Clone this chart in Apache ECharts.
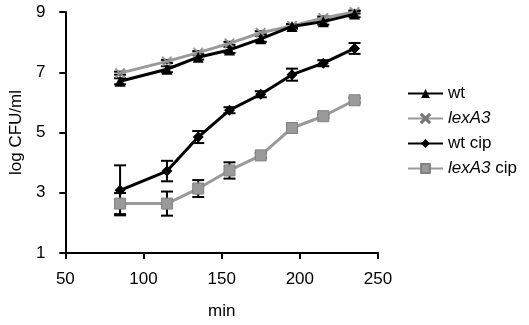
<!DOCTYPE html>
<html>
<head>
<meta charset="utf-8">
<script src="https://cdn.jsdelivr.net/npm/echarts@6/dist/echarts.min.js"></script>
<style>
  html, body { margin: 0; padding: 0; background: #fff; }
  #chart { width: 529px; height: 325px; }
</style>
</head>
<body>
<div id="chart"></div>
<script>
// time points (min)
const minutes = [85, 115, 135, 155, 175, 195, 215, 235];

// log CFU/ml
const wt        = [6.70, 7.10, 7.50, 7.74, 8.11, 8.52, 8.68, 8.93];
const wtErr     = [0.10, 0.10, 0.08, 0.10, 0.10, 0.08, 0.10, 0.10];
const lexA3     = [6.97, 7.36, 7.65, 7.96, 8.31, 8.54, 8.80, 9.00];
const lexA3Err  = [0.05, 0.05, 0.05, 0.05, 0.05, 0.05, 0.05, 0.05];
const wtCip     = [3.08, 3.72, 4.85, 5.74, 6.27, 6.92, 7.30, 7.79];
const wtCipErr  = [0.83, 0.34, 0.20, 0.10, 0.10, 0.20, 0.10, 0.18];
const lexA3Cip    = [2.64, 2.64, 3.14, 3.74, 4.24, 5.15, 5.54, 6.07];
const lexA3CipErr = [0.35, 0.40, 0.28, 0.27, 0.08, 0.08, 0.05, 0.08];

const xTicks = [50, 100, 150, 200, 250];
const yTicks = [1, 3, 5, 7, 9];

const FONT = 'Liberation Sans, Arial, sans-serif';
const GRAY = '#9a9a9a';
// little x marker, echarts has no cross symbol
const crossPath = 'path://M1,0L5,4L9,0L10,1L6,5L10,9L9,10L5,6L1,10L0,9L4,5L0,1Z';

const pairs = (ys) => minutes.map((m, i) => [m, ys[i]]);
const errPairs = (ys, es) => minutes.map((m, i) => [m, ys[i] - es[i], ys[i] + es[i]]);

const errSeries = (ys, es) => ({
    type: 'custom',
    z: 1,
    silent: true,
    data: errPairs(ys, es),
    renderItem: function (params, api) {
        const x = api.value(0);
        const lo = api.coord([x, api.value(1)]);
        const hi = api.coord([x, api.value(2)]);
        const w = 6;
        const st = { stroke: '#000', lineWidth: 2 };
        return {
            type: 'group',
            children: [
                { type: 'line', shape: { x1: lo[0], y1: lo[1], x2: hi[0], y2: hi[1] }, style: st },
                { type: 'line', shape: { x1: lo[0] - w, y1: lo[1], x2: lo[0] + w, y2: lo[1] }, style: st },
                { type: 'line', shape: { x1: hi[0] - w, y1: hi[1], x2: hi[0] + w, y2: hi[1] }, style: st }
            ]
        };
    }
});

const myChart = echarts.init(document.getElementById('chart'));
const option = {
    animation: false,
    textStyle: { fontFamily: FONT },
    grid: { left: 58, right: 151, top: 12, bottom: 71 },
    legend: {
        orient: 'vertical',
        left: 407,
        top: 85,
        padding: 0,
        itemWidth: 35,
        itemHeight: 11,
        itemGap: 8,
        textStyle: {
            color: '#000', fontSize: 17, fontFamily: FONT,
            rich: { i: { fontStyle: 'italic', fontSize: 17, fontFamily: FONT, color: '#000' } }
        },
        formatter: function (name) {
            if (name === 'lexA3') return '{i|lexA3}';
            if (name === 'lexA3 cip') return '{i|lexA3} cip';
            return name;
        },
        data: ['wt', 'lexA3', 'wt cip', 'lexA3 cip']
    },
    xAxis: {
        type: 'value',
        min: xTicks[0],
        max: xTicks[xTicks.length - 1],
        interval: 50,
        name: 'min',
        nameLocation: 'middle',
        nameGap: 50,
        nameTextStyle: { color: '#000', fontSize: 17, fontFamily: FONT },
        axisLine: { lineStyle: { color: '#000', width: 2 } },
        axisTick: { lineStyle: { color: '#000', width: 2 }, length: 6 },
        axisLabel: { color: '#000', fontSize: 17, margin: 18, fontFamily: FONT },
        splitLine: { show: false }
    },
    yAxis: {
        type: 'value',
        min: yTicks[0],
        max: yTicks[yTicks.length - 1],
        interval: 2,
        name: 'log CFU/ml',
        nameLocation: 'middle',
        nameGap: 34,
        nameTextStyle: { color: '#000', fontSize: 17, fontFamily: FONT },
        axisLine: { show: true, lineStyle: { color: '#000', width: 2 } },
        axisTick: { show: true, lineStyle: { color: '#000', width: 2 }, length: 6 },
        axisLabel: { color: '#000', fontSize: 17, margin: 20, fontFamily: FONT },
        splitLine: { show: false }
    },
    series: [
        errSeries(wt, wtErr),
        errSeries(lexA3, lexA3Err),
        errSeries(wtCip, wtCipErr),
        errSeries(lexA3Cip, lexA3CipErr),
        {
            name: 'lexA3', type: 'line', data: pairs(lexA3), z: 3,
            symbol: crossPath, symbolSize: 10,
            lineStyle: { color: GRAY, width: 3 },
            itemStyle: { color: GRAY, borderColor: '#777', borderWidth: 0.5 }
        },
        {
            name: 'wt', type: 'line', data: pairs(wt), z: 4,
            symbol: 'triangle', symbolSize: 11,
            lineStyle: { color: '#000', width: 3 },
            itemStyle: { color: '#000' }
        },
        {
            name: 'lexA3 cip', type: 'line', data: pairs(lexA3Cip), z: 3,
            symbol: 'rect', symbolSize: 11,
            lineStyle: { color: GRAY, width: 3 },
            itemStyle: { color: GRAY, borderColor: '#808080', borderWidth: 1 }
        },
        {
            name: 'wt cip', type: 'line', data: pairs(wtCip), z: 4,
            symbol: 'diamond', symbolSize: 11,
            lineStyle: { color: '#000', width: 3 },
            itemStyle: { color: '#000' }
        }
    ]
};
myChart.setOption(option);
</script>
</body>
</html>
